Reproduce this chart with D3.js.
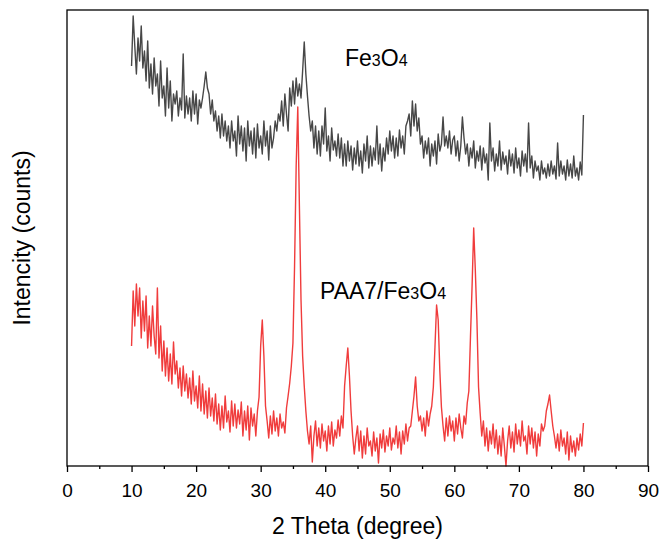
<!DOCTYPE html>
<html>
<head>
<meta charset="utf-8">
<script src="https://cdn.jsdelivr.net/npm/d3@7"></script>
<style>
  body { margin: 0; background: #fff; }
  svg { font-family: 'Liberation Sans', Arial, sans-serif; }
</style>
</head>
<body>
<svg width="660" height="545"></svg>
<script>
// 2-theta sampling grid (degrees)
const thetaStart = 10;
const thetaStep = 0.25;

// Fe3O4 intensity (arbitrary counts), one value per grid step
const fe3o4 = [
  400, 450, 420, 392,  428, 405, 440, 398,  415, 385, 425, 378,  402, 372, 408, 380,
  392, 360, 405, 368,  380, 350, 398, 358,  385, 345, 372, 362,  375, 350, 368, 356,
  412, 348, 370, 352,  368, 345, 375, 352,  372, 342, 366, 358,  368, 380, 394, 378,
  372, 352, 366, 345,  355, 335, 350, 328,  352, 330, 345, 325,  340, 318, 345, 325,
  335, 310, 350, 322,  340, 315, 338, 305,  345, 320, 335, 312,  338, 308, 342, 318,
  330, 312, 345, 320,  335, 306, 340, 318,  328, 345, 335, 352,  345, 365, 340, 372,
  352, 335, 378, 360,  385, 362, 388, 370,  382, 368, 395, 424,  392, 370, 350, 335,
  345, 318, 340, 312,  335, 310, 340, 322,  358, 315, 330, 305,  338, 316, 325, 310,
  332, 308, 328, 300,  322, 300, 325, 305,  320, 296, 318, 302,  325, 300, 315, 293,
  322, 305, 330, 298,  320, 300, 318, 306,  340, 302, 322, 295,  318, 305, 328, 312,
  335, 315, 330, 308,  328, 310, 336, 318,  330, 312, 340, 345,  352, 330, 365, 340,
  362, 335, 348, 322,  330, 308, 325, 312,  328, 300, 322, 310,  325, 302, 332, 315,
  322, 349, 320, 330,  318, 335, 312, 326,  330, 310, 325, 305,  320, 349, 328, 312,
  322, 300, 318, 308,  325, 298, 315, 305,  320, 296, 318, 303,  312, 286, 343, 305,
  318, 295, 312, 300,  325, 296, 314, 302,  310, 292, 316, 300,  312, 293, 318, 298,
  308, 290, 315, 300,  312, 294, 343, 298,  310, 288, 305, 295,  300, 286, 305, 292,
  298, 288, 302, 290,  305, 292, 300, 287,  323, 290, 305, 292,  300, 286, 306, 290,
  302, 288, 310, 290,  298, 286, 304, 291,  351
];

// PAA7/Fe3O4 intensity (arbitrary counts)
const paa7 = [
  120, 175, 140, 182,  150, 178, 128, 165,  135, 170, 118, 150,  120, 160, 130, 112,
  178, 108, 140, 95,   125, 90, 118, 85,    112, 82, 124, 92,    105, 78, 98, 70,
  100, 75, 92, 68,     88, 62, 95, 65,      80, 58, 90, 55,      82, 52, 75, 48,
  78, 50, 68, 45,      72, 42, 62, 36,      60, 38, 70, 44,      55, 34, 65, 40,
  62, 38, 56, 42,      64, 30, 55, 36,      60, 26, 58, 40,      52, 30, 55, 69,
  120, 146, 110, 60,   45, 28, 50, 32,      55, 35, 48, 30,      52, 38, 44, 33,
  58, 70, 83, 100,     123, 200, 300, 359,  260, 166, 110, 80,   55, 35, 22, 40,
  4, 30, 45, 20,       38, 18, 42, 25,      35, 15, 40, 22,      44, 20, 36, 28,
  46, 30, 50, 38,      80, 100, 118, 90,    55, 30, 12, 28,      40, 15, 35, 8,
  30, 12, 38, 20,      25, 10, 34, 15,      28, 3, 32, 18,       36, 14, 30, 20,
  38, 16, 28, 22,      40, 18, 34, 12,      35, 22, 42, 25,      38, 40, 55, 70,
  89, 60, 45, 50,      35, 48, 30, 55,      40, 52, 60, 79,      119, 161, 146, 96,
  59, 40, 25, 48,      30, 50, 35, 45,      25, 48, 32, 52,      38, 28, 50, 42,
  63, 75, 129, 180,    238, 196, 146, 79,   53, 30, 45, 20,      38, 15, 35, 22,
  42, 18, 36, 12,      30, 10, 38, 20,      0, 25, 40, 18,       34, 14, 42, 22,
  36, 20, 45, 25,      30, 12, 40, 22,      38, 18, 34, 10,      32, 20, 42, 35,
  40, 55, 62, 71,      55, 40, 30, 18,      32, 15, 36, 20,      28, 12, 34, 6,
  30, 14, 25, 10,      28, 16, 32, 20,      43
];

const majorTicks = [0, 10, 20, 30, 40, 50, 60, 70, 80, 90];
const minorTicks = [5, 15, 25, 35, 45, 55, 65, 75, 85];

const svg = d3.select('svg'),
      plotLeft = 67, plotRight = 648, plotTop = 10, plotBottom = 466;

const x = d3.scaleLinear().domain([0, 90]).range([plotLeft, plotRight]);
const y = d3.scaleLinear().domain([0, 456]).range([plotBottom, plotTop]);

const line = d3.line()
  .x((d, i) => x(thetaStart + i * thetaStep))
  .y((d) => y(d));

// spectra
svg.append('path')
  .datum(fe3o4)
  .attr('fill', 'none')
  .attr('stroke', '#474747')
  .attr('stroke-width', 1.4)
  .attr('stroke-linejoin', 'round')
  .attr('d', line);

svg.append('path')
  .datum(paa7)
  .attr('fill', 'none')
  .attr('stroke', '#f03c3c')
  .attr('stroke-width', 1.4)
  .attr('stroke-linejoin', 'round')
  .attr('d', line);

// frame
svg.append('rect')
  .attr('x', plotLeft).attr('y', plotTop)
  .attr('width', plotRight - plotLeft).attr('height', plotBottom - plotTop)
  .attr('fill', 'none')
  .attr('stroke', '#000')
  .attr('stroke-width', 1.3);

// bottom axis
const gx = svg.append('g')
  .attr('transform', 'translate(0,' + plotBottom + ')')
  .call(d3.axisBottom(x).tickValues(majorTicks).tickSize(6).tickPadding(12).tickFormat(d3.format('d')));
gx.select('.domain').remove();
gx.selectAll('.tick line').attr('stroke-width', 1.3);
gx.selectAll('.tick text')
  .attr('font-family', "'Liberation Sans', Arial, sans-serif")
  .attr('font-size', 19)
  .attr('fill', '#000');

const gm = svg.append('g')
  .attr('transform', 'translate(0,' + plotBottom + ')')
  .call(d3.axisBottom(x).tickValues(minorTicks).tickSize(3).tickFormat(''));
gm.select('.domain').remove();
gm.selectAll('.tick line').attr('stroke-width', 1.3);

// axis titles
svg.append('text')
  .attr('x', (plotLeft + plotRight) / 2)
  .attr('y', 534)
  .attr('text-anchor', 'middle')
  .attr('font-size', 23)
  .text('2 Theta (degree)');

svg.append('text')
  .attr('transform', 'translate(30,' + ((plotTop + plotBottom) / 2) + ') rotate(-90)')
  .attr('text-anchor', 'middle')
  .attr('font-size', 23)
  .text('Intencity (counts)');

// series labels with small subscript digits
function formulaLabel(px, py, prefix) {
  const t = svg.append('text')
    .attr('x', px).attr('y', py)
    .attr('font-size', 23)
    .attr('fill', '#000');
  t.append('tspan').text(prefix + 'Fe');
  t.append('tspan').attr('font-size', 16).text('3');
  t.append('tspan').text('O');
  t.append('tspan').attr('font-size', 16).text('4');
}

formulaLabel(345, 66, '');
formulaLabel(320, 299, 'PAA7/');
</script>
</body>
</html>
